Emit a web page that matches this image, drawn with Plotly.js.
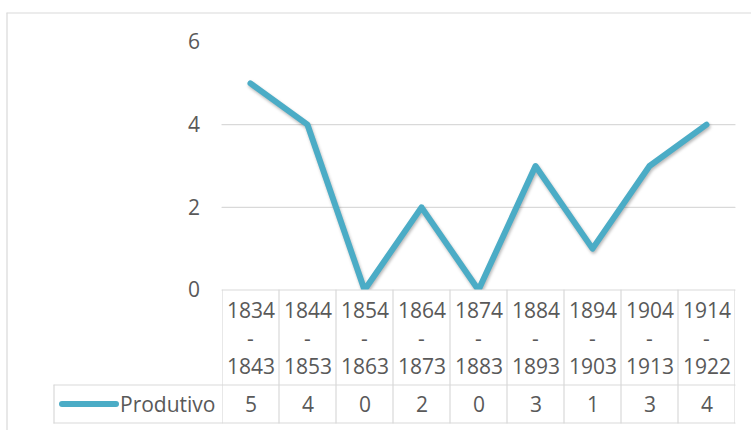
<!DOCTYPE html>
<html>
<head>
<meta charset="utf-8">
<script src="https://cdn.plot.ly/plotly-3.0.1.min.js"></script>
<style>
  html, body { margin: 0; padding: 0; background: #fff; }
  #chart { width: 751px; height: 430px; }
  .js-line { filter: drop-shadow(1px 2px 1.5px rgba(0,0,0,0.28)); stroke-linejoin: round; stroke-linecap: round; }
  .shapelayer path { stroke-linecap: round; }
</style>
</head>
<body>
<div id="chart"></div>
<script>
// ---- data ----
const periodStart = ["1834", "1844", "1854", "1864", "1874", "1884", "1894", "1904", "1914"];
const periodEnd   = ["1843", "1853", "1863", "1873", "1883", "1893", "1903", "1913", "1922"];
const seriesName  = "Produtivo";
const produtivo   = [5, 4, 0, 2, 0, 3, 1, 3, 4];
const yTicks      = [0, 2, 4, 6];

const categories = periodStart.map((s, i) => s + " - " + periodEnd[i]);

// ---- layout helpers (pixel -> paper) ----
const W = 751, H = 430;
const L = 222, R = 16, T = 42, B = 140;
const plotW = W - L - R, plotH = H - T - B;
const px = p => (p - L) / plotW;
const py = p => (H - B - p) / plotH;

const LINE_COLOR = "#4bacc6";
const GRID = "#d9d9d9";
const TXT = "#595959";
const FONT = "Open Sans, Lato, sans-serif";
const FS = 21;

const shapes = [];
const annotations = [];

function hline(y, x0, x1) {
  shapes.push({type: "line", xref: "paper", yref: "paper", x0: px(x0), x1: px(x1), y0: py(y), y1: py(y),
    line: {color: GRID, width: 1.2}});
}
function vline(x, y0, y1) {
  shapes.push({type: "line", xref: "paper", yref: "paper", x0: px(x), x1: px(x), y0: py(y0), y1: py(y1),
    line: {color: GRID, width: 1.2}});
}

// outer chart border
vline(7, 13, 445);
hline(13, 7, 760);

// data table grid
hline(290, 222, 735);
hline(385, 54, 735);
hline(423, 54, 735);
vline(54, 385, 423);
for (let i = 0; i <= categories.length; i++) {
  shapes.push({type: "line", xref: "x", yref: "paper", x0: i - 0.5, x1: i - 0.5, y0: py(290), y1: py(423),
    line: {color: GRID, width: 1.2}});
}

// legend key line
shapes.push({type: "line", xref: "paper", yref: "paper", x0: px(62), x1: px(116), y0: py(404), y1: py(404),
  line: {color: LINE_COLOR, width: 6}});
annotations.push({xref: "paper", yref: "paper", x: px(118), y: py(404), xanchor: "left", yanchor: "middle",
  text: seriesName, showarrow: false, font: {family: FONT, size: FS, color: TXT}});

// table text
categories.forEach((c, i) => {
  const common = {xref: "x", yref: "paper", x: c, xanchor: "center", yanchor: "middle", showarrow: false,
    font: {family: FONT, size: FS, color: TXT}};
  annotations.push(Object.assign({}, common, {y: py(310), text: periodStart[i]}));
  annotations.push(Object.assign({}, common, {y: py(338), text: "-"}));
  annotations.push(Object.assign({}, common, {y: py(366), text: periodEnd[i]}));
  annotations.push(Object.assign({}, common, {y: py(404), text: String(produtivo[i])}));
});

const trace = {
  type: "scatter", mode: "lines", x: categories, y: produtivo, name: seriesName,
  line: {color: LINE_COLOR, width: 6, shape: "linear"},
  hoverinfo: "skip", showlegend: false
};

const layout = {
  width: W, height: H,
  margin: {l: L, r: R, t: T, b: B, pad: 0},
  paper_bgcolor: "#ffffff", plot_bgcolor: "#ffffff",
  showlegend: false,
  font: {family: FONT, color: TXT, size: FS},
  xaxis: {type: "category", range: [-0.5, categories.length - 0.5], showgrid: false, zeroline: false,
    showticklabels: false, ticks: "", showline: false, fixedrange: true},
  yaxis: {range: [0, 6], tickvals: yTicks, ticktext: yTicks.map(String), showgrid: false, zeroline: false,
    showline: false, ticks: "", ticklabelstandoff: 21, tickfont: {family: FONT, size: FS, color: TXT}, fixedrange: true},
  shapes: shapes.concat([2, 4].map(v => ({type: "line", xref: "paper", yref: "y", x0: 0, x1: 1, y0: v, y1: v,
    layer: "below", line: {color: GRID, width: 1.2}}))),
  annotations: annotations
};

Plotly.newPlot("chart", [trace], layout, {staticPlot: true, displayModeBar: false});
</script>
</body>
</html>
